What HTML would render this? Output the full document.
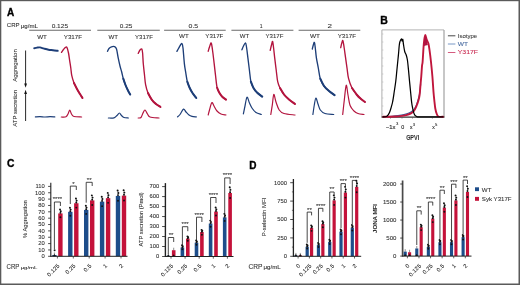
<!DOCTYPE html>
<html><head><meta charset="utf-8"><style>
html,body{margin:0;padding:0;background:#fff;}
svg{display:block;filter:blur(0.25px);}
svg{stroke-width:0.08px;}
text{font-family:"Liberation Sans",sans-serif;}
</style></head><body>
<div style="position:relative;width:520px;height:285px;overflow:hidden;background:#fff;">
<svg width="520" height="285" viewBox="0 0 520 285">
<text x="7" y="16" font-size="10" text-anchor="start" font-weight="bold" style="stroke-width:0.35px" fill="#000" stroke="#000">A</text>
<text x="6.85" y="27.4" font-size="6.1" text-anchor="start" fill="#303030" textLength="12.8" lengthAdjust="spacingAndGlyphs" stroke="#303030">CRP</text>
<text x="20.85" y="27.7" font-size="4.6" text-anchor="start" fill="#303030" textLength="17.0" lengthAdjust="spacingAndGlyphs" stroke="#303030">μg/mL</text>
<text x="51.65" y="27.6" font-size="5.3" text-anchor="start" fill="#303030" textLength="16.4" lengthAdjust="spacingAndGlyphs" stroke="#303030">0.125</text>
<line x1="29.2" y1="30.3" x2="91" y2="30.3" stroke="#6a6a6a" stroke-width="1.1"/>
<text x="119.75" y="28.0" font-size="5.3" text-anchor="start" fill="#303030" textLength="12.6" lengthAdjust="spacingAndGlyphs" stroke="#303030">0.25</text>
<line x1="97.3" y1="30.3" x2="159.8" y2="30.3" stroke="#6a6a6a" stroke-width="1.1"/>
<text x="188.55" y="27.6" font-size="5.3" text-anchor="start" fill="#303030" textLength="9.7" lengthAdjust="spacingAndGlyphs" stroke="#303030">0.5</text>
<line x1="164.1" y1="30.3" x2="225.7" y2="30.3" stroke="#6a6a6a" stroke-width="1.1"/>
<text x="259.65" y="27.9" font-size="5.3" text-anchor="start" fill="#303030" textLength="2.8" lengthAdjust="spacingAndGlyphs" stroke="#303030">1</text>
<line x1="231.4" y1="30.3" x2="293.4" y2="30.3" stroke="#6a6a6a" stroke-width="1.1"/>
<text x="327.45" y="27.7" font-size="5.3" text-anchor="start" fill="#303030" textLength="4.5" lengthAdjust="spacingAndGlyphs" stroke="#303030">2</text>
<line x1="298.6" y1="30.3" x2="360.3" y2="30.3" stroke="#6a6a6a" stroke-width="1.1"/>
<text x="37.15" y="39.2" font-size="5.6" text-anchor="start" fill="#303030" textLength="9.8" lengthAdjust="spacingAndGlyphs" stroke="#303030">WT</text>
<text x="108.45" y="38.7" font-size="5.6" text-anchor="start" fill="#303030" textLength="9.5" lengthAdjust="spacingAndGlyphs" stroke="#303030">WT</text>
<text x="179.05" y="37.7" font-size="5.6" text-anchor="start" fill="#303030" textLength="9.7" lengthAdjust="spacingAndGlyphs" stroke="#303030">WT</text>
<text x="239.75" y="37.8" font-size="5.6" text-anchor="start" fill="#303030" textLength="9.4" lengthAdjust="spacingAndGlyphs" stroke="#303030">WT</text>
<text x="309.95" y="37.5" font-size="5.6" text-anchor="start" fill="#303030" textLength="10.1" lengthAdjust="spacingAndGlyphs" stroke="#303030">WT</text>
<text x="63.75" y="39.2" font-size="5.6" text-anchor="start" fill="#303030" textLength="18.3" lengthAdjust="spacingAndGlyphs" stroke="#303030">Y317F</text>
<text x="135.05" y="38.7" font-size="5.6" text-anchor="start" fill="#303030" textLength="17.8" lengthAdjust="spacingAndGlyphs" stroke="#303030">Y317F</text>
<text x="205.35" y="37.7" font-size="5.6" text-anchor="start" fill="#303030" textLength="18.0" lengthAdjust="spacingAndGlyphs" stroke="#303030">Y317F</text>
<text x="265.55" y="37.8" font-size="5.6" text-anchor="start" fill="#303030" textLength="17.8" lengthAdjust="spacingAndGlyphs" stroke="#303030">Y317F</text>
<text x="337.65" y="37.5" font-size="5.6" text-anchor="start" fill="#303030" textLength="18.3" lengthAdjust="spacingAndGlyphs" stroke="#303030">Y317F</text>
<line x1="25.6" y1="50.5" x2="25.6" y2="84.5" stroke="#111" stroke-width="0.9"/>
<path d="M24.2,83.5 L25.6,87.8 L27,83.5 Z" fill="#111"/>
<line x1="25.6" y1="121" x2="25.6" y2="93" stroke="#111" stroke-width="0.9"/>
<path d="M24.2,94 L25.6,89.7 L27,94 Z" fill="#111"/>
<text x="16.7" y="65.5" font-size="5.9" text-anchor="middle" fill="#303030" transform="rotate(-90 16.7 65.5)" textLength="32.6" lengthAdjust="spacingAndGlyphs" stroke="#303030">Aggregation</text>
<text x="17.5" y="108.3" font-size="5.9" text-anchor="middle" fill="#303030" transform="rotate(-90 17.5 108.3)" textLength="36.8" lengthAdjust="spacingAndGlyphs" stroke="#303030">ATP secretion</text>
<path d="M34.20,48.20 C34.67,48.10 36.03,47.73 37.00,47.60 C37.97,47.47 38.83,47.23 40.00,47.40 C41.17,47.57 42.58,48.22 44.00,48.60 C45.42,48.98 47.00,49.43 48.50,49.70 C50.00,49.97 51.47,50.02 53.00,50.20 C54.53,50.38 56.92,50.70 57.70,50.80" fill="none" stroke="#1d3e78" stroke-width="1.9" stroke-linejoin="round" stroke-linecap="round"/>
<path d="M107.50,51.30 C107.75,50.83 108.33,49.25 109.00,48.50 C109.67,47.75 110.60,47.12 111.50,46.80 C112.40,46.48 113.57,46.23 114.40,46.60 C115.23,46.97 115.87,47.12 116.50,49.00 C117.13,50.88 117.62,55.07 118.20,57.90 C118.78,60.73 119.42,63.65 120.00,66.00 C120.58,68.35 121.15,69.88 121.70,72.00 C122.25,74.12 122.67,76.53 123.30,78.70 C123.93,80.87 124.72,83.03 125.50,85.00 C126.28,86.97 127.22,88.92 128.00,90.50 C128.78,92.08 129.83,93.83 130.20,94.50" fill="none" stroke="#1d3e78" stroke-width="1.35" stroke-linejoin="round" stroke-linecap="round"/>
<path d="M123.30,78.70 C123.67,79.75 124.72,83.03 125.50,85.00 C126.28,86.97 127.22,88.92 128.00,90.50 C128.78,92.08 129.83,93.83 130.20,94.50" fill="none" stroke="#1d3e78" stroke-width="2.0" stroke-linejoin="round" stroke-linecap="round"/>
<path d="M176.90,51.30 C177.17,50.83 177.90,49.55 178.50,48.50 C179.10,47.45 179.92,45.82 180.50,45.00 C181.08,44.18 181.58,43.10 182.00,43.60 C182.42,44.10 182.60,44.63 183.00,48.00 C183.40,51.37 183.93,59.63 184.40,63.80 C184.87,67.97 185.32,70.02 185.80,73.00 C186.28,75.98 186.68,79.28 187.30,81.70 C187.92,84.12 188.63,85.62 189.50,87.50 C190.37,89.38 191.37,91.25 192.50,93.00 C193.63,94.75 195.67,97.17 196.30,98.00" fill="none" stroke="#1d3e78" stroke-width="1.35" stroke-linejoin="round" stroke-linecap="round"/>
<path d="M187.30,81.70 C187.67,82.67 188.63,85.62 189.50,87.50 C190.37,89.38 191.37,91.25 192.50,93.00 C193.63,94.75 195.67,97.17 196.30,98.00" fill="none" stroke="#1d3e78" stroke-width="2.0" stroke-linejoin="round" stroke-linecap="round"/>
<path d="M241.90,49.80 C242.17,49.17 242.90,47.13 243.50,46.00 C244.10,44.87 245.00,42.83 245.50,43.00 C246.00,43.17 246.10,44.52 246.50,47.00 C246.90,49.48 247.42,54.07 247.90,57.90 C248.38,61.73 248.90,66.03 249.40,70.00 C249.90,73.97 250.22,78.70 250.90,81.70 C251.58,84.70 252.48,86.20 253.50,88.00 C254.52,89.80 255.55,91.07 257.00,92.50 C258.45,93.93 261.33,95.92 262.20,96.60" fill="none" stroke="#1d3e78" stroke-width="1.35" stroke-linejoin="round" stroke-linecap="round"/>
<path d="M250.90,81.70 C251.33,82.75 252.48,86.20 253.50,88.00 C254.52,89.80 255.55,91.07 257.00,92.50 C258.45,93.93 261.33,95.92 262.20,96.60" fill="none" stroke="#1d3e78" stroke-width="2.0" stroke-linejoin="round" stroke-linecap="round"/>
<path d="M312.30,49.00 C312.47,48.33 312.95,46.10 313.30,45.00 C313.65,43.90 314.07,41.90 314.40,42.40 C314.73,42.90 314.97,45.42 315.30,48.00 C315.63,50.58 315.90,54.57 316.40,57.90 C316.90,61.23 317.65,64.53 318.30,68.00 C318.95,71.47 319.35,75.70 320.30,78.70 C321.25,81.70 322.55,83.95 324.00,86.00 C325.45,88.05 327.23,89.48 329.00,91.00 C330.77,92.52 333.67,94.42 334.60,95.10" fill="none" stroke="#1d3e78" stroke-width="1.35" stroke-linejoin="round" stroke-linecap="round"/>
<path d="M320.30,78.70 C320.92,79.92 322.55,83.95 324.00,86.00 C325.45,88.05 327.23,89.48 329.00,91.00 C330.77,92.52 333.67,94.42 334.60,95.10" fill="none" stroke="#1d3e78" stroke-width="2.0" stroke-linejoin="round" stroke-linecap="round"/>
<path d="M61.50,52.40 C61.83,51.92 62.83,50.33 63.50,49.50 C64.17,48.67 64.92,47.72 65.50,47.40 C66.08,47.08 66.50,46.67 67.00,47.60 C67.50,48.53 68.05,50.80 68.50,53.00 C68.95,55.20 69.32,58.30 69.70,60.80 C70.08,63.30 70.45,65.52 70.80,68.00 C71.15,70.48 71.27,73.20 71.80,75.70 C72.33,78.20 73.13,80.78 74.00,83.00 C74.87,85.22 76.00,87.17 77.00,89.00 C78.00,90.83 79.08,92.50 80.00,94.00 C80.92,95.50 82.08,97.33 82.50,98.00" fill="none" stroke="#b3143e" stroke-width="1.35" stroke-linejoin="round" stroke-linecap="round"/>
<path d="M74.00,83.00 C74.50,84.00 76.00,87.17 77.00,89.00 C78.00,90.83 79.08,92.50 80.00,94.00 C80.92,95.50 82.08,97.33 82.50,98.00" fill="none" stroke="#b3143e" stroke-width="2.0" stroke-linejoin="round" stroke-linecap="round"/>
<path d="M138.20,53.40 C138.50,52.83 139.40,50.73 140.00,50.00 C140.60,49.27 141.37,48.50 141.80,49.00 C142.23,49.50 142.35,50.53 142.60,53.00 C142.85,55.47 142.98,60.13 143.30,63.80 C143.62,67.47 144.12,71.52 144.50,75.00 C144.88,78.48 145.02,81.70 145.60,84.70 C146.18,87.70 146.93,90.45 148.00,93.00 C149.07,95.55 150.67,98.17 152.00,100.00 C153.33,101.83 154.58,102.83 156.00,104.00 C157.42,105.17 159.75,106.50 160.50,107.00" fill="none" stroke="#b3143e" stroke-width="1.35" stroke-linejoin="round" stroke-linecap="round"/>
<path d="M148.00,93.00 C148.67,94.17 150.67,98.17 152.00,100.00 C153.33,101.83 154.58,102.83 156.00,104.00 C157.42,105.17 159.75,106.50 160.50,107.00" fill="none" stroke="#b3143e" stroke-width="2.0" stroke-linejoin="round" stroke-linecap="round"/>
<path d="M208.20,51.30 C208.42,50.58 209.00,48.38 209.50,47.00 C210.00,45.62 210.70,42.50 211.20,43.00 C211.70,43.50 212.00,46.53 212.50,50.00 C213.00,53.47 213.68,59.47 214.20,63.80 C214.72,68.13 215.12,72.02 215.60,76.00 C216.08,79.98 216.45,84.87 217.10,87.70 C217.75,90.53 218.60,91.45 219.50,93.00 C220.40,94.55 221.42,95.90 222.50,97.00 C223.58,98.10 225.42,99.17 226.00,99.60" fill="none" stroke="#b3143e" stroke-width="1.35" stroke-linejoin="round" stroke-linecap="round"/>
<path d="M217.10,87.70 C217.50,88.58 218.60,91.45 219.50,93.00 C220.40,94.55 221.42,95.90 222.50,97.00 C223.58,98.10 225.42,99.17 226.00,99.60" fill="none" stroke="#b3143e" stroke-width="2.0" stroke-linejoin="round" stroke-linecap="round"/>
<path d="M270.20,50.40 C270.42,49.50 271.10,46.48 271.50,45.00 C271.90,43.52 272.25,41.00 272.60,41.50 C272.95,42.00 273.25,45.27 273.60,48.00 C273.95,50.73 274.27,54.23 274.70,57.90 C275.13,61.57 275.70,66.03 276.20,70.00 C276.70,73.97 277.07,78.70 277.70,81.70 C278.33,84.70 278.95,85.87 280.00,88.00 C281.05,90.13 282.50,92.58 284.00,94.50 C285.50,96.42 287.17,97.92 289.00,99.50 C290.83,101.08 294.00,103.25 295.00,104.00" fill="none" stroke="#b3143e" stroke-width="1.35" stroke-linejoin="round" stroke-linecap="round"/>
<path d="M280.00,88.00 C280.67,89.08 282.50,92.58 284.00,94.50 C285.50,96.42 287.17,97.92 289.00,99.50 C290.83,101.08 294.00,103.25 295.00,104.00" fill="none" stroke="#b3143e" stroke-width="2.0" stroke-linejoin="round" stroke-linecap="round"/>
<path d="M340.70,47.70 C340.88,46.92 341.43,44.17 341.80,43.00 C342.17,41.83 342.50,39.87 342.90,40.70 C343.30,41.53 343.75,45.13 344.20,48.00 C344.65,50.87 345.13,54.57 345.60,57.90 C346.07,61.23 346.50,64.53 347.00,68.00 C347.50,71.47 347.77,75.37 348.60,78.70 C349.43,82.03 350.60,85.28 352.00,88.00 C353.40,90.72 355.50,93.17 357.00,95.00 C358.50,96.83 359.67,97.83 361.00,99.00 C362.33,100.17 364.33,101.50 365.00,102.00" fill="none" stroke="#b3143e" stroke-width="1.35" stroke-linejoin="round" stroke-linecap="round"/>
<path d="M352.00,88.00 C352.83,89.17 355.50,93.17 357.00,95.00 C358.50,96.83 359.67,97.83 361.00,99.00 C362.33,100.17 364.33,101.50 365.00,102.00" fill="none" stroke="#b3143e" stroke-width="2.0" stroke-linejoin="round" stroke-linecap="round"/>
<path d="M35.40,116.90 C36.17,116.85 38.40,116.58 40.00,116.60 C41.60,116.62 43.33,116.98 45.00,117.00 C46.67,117.02 48.37,116.72 50.00,116.70 C51.63,116.68 54.00,116.87 54.80,116.90" fill="none" stroke="#1d3e78" stroke-width="1.2" stroke-linejoin="round" stroke-linecap="round"/>
<path d="M108.40,118.00 C109.33,117.97 112.57,118.22 114.00,117.80 C115.43,117.38 116.10,116.30 117.00,115.50 C117.90,114.70 118.65,113.00 119.40,113.00 C120.15,113.00 120.73,114.75 121.50,115.50 C122.27,116.25 122.85,117.08 124.00,117.50 C125.15,117.92 127.67,117.92 128.40,118.00" fill="none" stroke="#1d3e78" stroke-width="1.2" stroke-linejoin="round" stroke-linecap="round"/>
<path d="M177.50,116.90 C177.92,116.50 179.00,115.80 180.00,114.50 C181.00,113.20 182.50,109.52 183.50,109.10 C184.50,108.68 185.08,111.02 186.00,112.00 C186.92,112.98 188.00,114.28 189.00,115.00 C190.00,115.72 190.78,115.98 192.00,116.30 C193.22,116.62 195.58,116.80 196.30,116.90" fill="none" stroke="#1d3e78" stroke-width="1.2" stroke-linejoin="round" stroke-linecap="round"/>
<path d="M243.40,113.90 C243.67,112.58 244.40,108.78 245.00,106.00 C245.60,103.22 246.25,97.70 247.00,97.20 C247.75,96.70 248.62,101.12 249.50,103.00 C250.38,104.88 251.22,106.92 252.30,108.50 C253.38,110.08 254.50,111.50 256.00,112.50 C257.50,113.50 260.42,114.17 261.30,114.50" fill="none" stroke="#1d3e78" stroke-width="1.2" stroke-linejoin="round" stroke-linecap="round"/>
<path d="M312.90,114.50 C313.13,112.92 313.80,107.75 314.30,105.00 C314.80,102.25 315.28,98.17 315.90,98.00 C316.52,97.83 317.27,102.00 318.00,104.00 C318.73,106.00 319.13,108.42 320.30,110.00 C321.47,111.58 322.77,112.75 325.00,113.50 C327.23,114.25 332.25,114.33 333.70,114.50" fill="none" stroke="#1d3e78" stroke-width="1.2" stroke-linejoin="round" stroke-linecap="round"/>
<path d="M61.30,117.00 C62.08,116.97 64.88,117.30 66.00,116.80 C67.12,116.30 67.38,115.13 68.00,114.00 C68.62,112.87 69.12,110.00 69.70,110.00 C70.28,110.00 70.78,112.92 71.50,114.00 C72.22,115.08 72.32,116.00 74.00,116.50 C75.68,117.00 80.33,116.92 81.60,117.00" fill="none" stroke="#b3143e" stroke-width="1.2" stroke-linejoin="round" stroke-linecap="round"/>
<path d="M138.20,118.00 C138.67,117.92 140.20,118.33 141.00,117.50 C141.80,116.67 142.33,114.25 143.00,113.00 C143.67,111.75 144.25,109.83 145.00,110.00 C145.75,110.17 146.67,112.83 147.50,114.00 C148.33,115.17 148.08,116.33 150.00,117.00 C151.92,117.67 157.50,117.83 159.00,118.00" fill="none" stroke="#b3143e" stroke-width="1.2" stroke-linejoin="round" stroke-linecap="round"/>
<path d="M208.20,115.00 C208.42,114.17 208.90,112.07 209.50,110.00 C210.10,107.93 211.05,103.27 211.80,102.60 C212.55,101.93 213.13,104.60 214.00,106.00 C214.87,107.40 215.83,109.67 217.00,111.00 C218.17,112.33 219.50,113.33 221.00,114.00 C222.50,114.67 225.17,114.83 226.00,115.00" fill="none" stroke="#b3143e" stroke-width="1.2" stroke-linejoin="round" stroke-linecap="round"/>
<path d="M270.80,114.50 C271.05,112.92 271.80,108.33 272.30,105.00 C272.80,101.67 273.18,95.00 273.80,94.50 C274.42,94.00 275.10,99.42 276.00,102.00 C276.90,104.58 277.87,108.08 279.20,110.00 C280.53,111.92 281.37,112.67 284.00,113.50 C286.63,114.33 293.17,114.75 295.00,115.00" fill="none" stroke="#b3143e" stroke-width="1.2" stroke-linejoin="round" stroke-linecap="round"/>
<path d="M342.70,114.50 C342.97,112.08 343.72,104.87 344.30,100.00 C344.88,95.13 345.58,86.13 346.20,85.30 C346.82,84.47 347.35,91.63 348.00,95.00 C348.65,98.37 349.10,102.83 350.10,105.50 C351.10,108.17 352.68,109.67 354.00,111.00 C355.32,112.33 356.33,112.92 358.00,113.50 C359.67,114.08 363.00,114.33 364.00,114.50" fill="none" stroke="#b3143e" stroke-width="1.2" stroke-linejoin="round" stroke-linecap="round"/>
<text x="380.2" y="23.5" font-size="10.5" text-anchor="start" font-weight="bold" style="stroke-width:0.35px" fill="#000" stroke="#000">B</text>
<line x1="381.9" y1="29.9" x2="444" y2="29.9" stroke="#aaa" stroke-width="0.9"/>
<line x1="444" y1="29.9" x2="444" y2="117.1" stroke="#999" stroke-width="1.1"/>
<line x1="381.9" y1="29.9" x2="381.9" y2="117.1" stroke="#999" stroke-width="0.8"/>
<line x1="381.5" y1="117.1" x2="444.5" y2="117.1" stroke="#333" stroke-width="1.1"/>
<line x1="390.5" y1="117.1" x2="390.5" y2="118.6" stroke="#555" stroke-width="0.6"/>
<line x1="402" y1="117.1" x2="402" y2="118.6" stroke="#555" stroke-width="0.6"/>
<line x1="412.5" y1="117.1" x2="412.5" y2="118.6" stroke="#555" stroke-width="0.6"/>
<line x1="432.4" y1="117.1" x2="432.4" y2="118.6" stroke="#555" stroke-width="0.6"/>
<line x1="382" y1="34" x2="383.4" y2="34" stroke="#aaa" stroke-width="0.5"/>
<line x1="382" y1="42" x2="383.4" y2="42" stroke="#aaa" stroke-width="0.5"/>
<line x1="382" y1="50" x2="383.4" y2="50" stroke="#aaa" stroke-width="0.5"/>
<line x1="382" y1="58" x2="383.4" y2="58" stroke="#aaa" stroke-width="0.5"/>
<line x1="382" y1="66" x2="383.4" y2="66" stroke="#aaa" stroke-width="0.5"/>
<line x1="382" y1="74" x2="383.4" y2="74" stroke="#aaa" stroke-width="0.5"/>
<line x1="382" y1="82" x2="383.4" y2="82" stroke="#aaa" stroke-width="0.5"/>
<line x1="382" y1="90" x2="383.4" y2="90" stroke="#aaa" stroke-width="0.5"/>
<line x1="382" y1="98" x2="383.4" y2="98" stroke="#aaa" stroke-width="0.5"/>
<line x1="382" y1="106" x2="383.4" y2="106" stroke="#aaa" stroke-width="0.5"/>
<line x1="382" y1="114" x2="383.4" y2="114" stroke="#aaa" stroke-width="0.5"/>
<path d="M386.00,116.60 C387.00,116.55 390.00,116.45 392.00,116.30 C394.00,116.15 396.00,115.98 398.00,115.70 C400.00,115.42 402.17,115.05 404.00,114.60 C405.83,114.15 407.58,113.60 409.00,113.00 C410.42,112.40 411.50,111.80 412.50,111.00 C413.50,110.20 414.25,109.45 415.00,108.20 C415.75,106.95 416.38,105.20 417.00,103.50 C417.62,101.80 418.23,99.83 418.70,98.00 C419.17,96.17 419.48,94.83 419.80,92.50 C420.12,90.17 420.47,85.42 420.60,84.00" fill="none" stroke="#3a5f9a" stroke-width="1.3" stroke-linejoin="round" stroke-linecap="round"/>
<path d="M383.20,116.80 C384.33,116.78 388.03,116.75 390.00,116.70 C391.97,116.65 393.30,116.60 395.00,116.50 C396.70,116.40 398.33,116.33 400.20,116.10 C402.07,115.87 404.40,115.55 406.20,115.10 C408.00,114.65 409.68,114.12 411.00,113.40 C412.32,112.68 413.18,112.03 414.10,110.80 C415.02,109.57 415.78,107.72 416.50,106.00 C417.22,104.28 417.88,102.33 418.40,100.50 C418.92,98.67 419.25,97.58 419.60,95.00 C419.95,92.42 420.22,88.17 420.50,85.00 C420.78,81.83 421.05,79.17 421.30,76.00 C421.55,72.83 421.78,68.33 422.00,66.00 C422.22,63.67 422.35,65.03 422.60,62.00 C422.85,58.97 423.23,51.40 423.50,47.80 C423.77,44.20 423.90,42.53 424.20,40.40 C424.50,38.27 424.87,35.08 425.30,35.00 C425.73,34.92 426.28,38.47 426.80,39.90 C427.32,41.33 427.95,41.93 428.40,43.60 C428.85,45.27 429.07,46.83 429.50,49.90 C429.93,52.97 430.52,57.57 431.00,62.00 C431.48,66.43 431.98,71.50 432.40,76.50 C432.82,81.50 433.15,87.75 433.50,92.00 C433.85,96.25 434.20,99.25 434.50,102.00 C434.80,104.75 434.95,106.58 435.30,108.50 C435.65,110.42 436.08,112.17 436.60,113.50 C437.12,114.83 437.33,115.95 438.40,116.50 C439.47,117.05 442.23,116.75 443.00,116.80" fill="none" stroke="#c0163c" stroke-width="1.9" stroke-linejoin="round" stroke-linecap="round"/>
<path d="M423.6,46 L424.4,40 L425.3,35.2 L426.6,39.5 L427.8,45 Z" fill="#b01442"/>
<path d="M383.00,116.80 C383.55,116.75 385.47,116.77 386.30,116.50 C387.13,116.23 387.47,115.85 388.00,115.20 C388.53,114.55 389.00,113.80 389.50,112.60 C390.00,111.40 390.48,109.77 391.00,108.00 C391.52,106.23 392.07,104.67 392.60,102.00 C393.13,99.33 393.67,95.50 394.20,92.00 C394.73,88.50 395.35,84.67 395.80,81.00 C396.25,77.33 396.55,73.50 396.90,70.00 C397.25,66.50 397.62,62.83 397.90,60.00 C398.18,57.17 398.37,55.50 398.60,53.00 C398.83,50.50 399.07,46.92 399.30,45.00 C399.53,43.08 399.65,42.53 400.00,41.50 C400.35,40.47 401.05,38.88 401.40,38.80 C401.75,38.72 401.87,40.90 402.10,41.00 C402.33,41.10 402.57,38.80 402.80,39.40 C403.03,40.00 403.18,42.58 403.50,44.60 C403.82,46.62 404.25,49.77 404.70,51.50 C405.15,53.23 405.75,53.58 406.20,55.00 C406.65,56.42 407.02,57.50 407.40,60.00 C407.78,62.50 408.15,66.50 408.50,70.00 C408.85,73.50 409.15,77.33 409.50,81.00 C409.85,84.67 410.25,88.50 410.60,92.00 C410.95,95.50 411.27,99.33 411.60,102.00 C411.93,104.67 412.25,106.23 412.60,108.00 C412.95,109.77 413.30,111.38 413.70,112.60 C414.10,113.82 414.48,114.65 415.00,115.30 C415.52,115.95 415.97,116.25 416.80,116.50 C417.63,116.75 415.63,116.75 420.00,116.80 C424.37,116.85 439.17,116.80 443.00,116.80" fill="none" stroke="#000" stroke-width="1.25" stroke-linejoin="round" stroke-linecap="round"/>
<g fill="#303030" stroke="#303030" style="stroke-width:0.15px">
<text x="385.9" y="128.6" font-size="5.0" textLength="9.6" lengthAdjust="spacingAndGlyphs" stroke="#303030">−1x</text>
<text x="396.2" y="125.0" font-size="3.6" stroke="#303030">3</text>
<text x="401.3" y="128.9" font-size="5.4" stroke="#303030">0</text>
<text x="410.0" y="128.7" font-size="5.0" stroke="#303030">x</text>
<text x="413.0" y="125.6" font-size="3.6" stroke="#303030">3</text>
<text x="432.2" y="128.7" font-size="5.0" stroke="#303030">x</text>
<text x="435.3" y="125.6" font-size="3.6" stroke="#303030">5</text>
</g>
<text x="406.15" y="139.8" font-size="8.0" text-anchor="start" font-weight="bold" fill="#303030" textLength="13.0" lengthAdjust="spacingAndGlyphs" stroke="#303030">GPVI</text>
<line x1="447.9" y1="35.8" x2="455.4" y2="35.8" stroke="#333" stroke-width="0.9"/>
<line x1="447.9" y1="44" x2="455.4" y2="44" stroke="#6a8cc0" stroke-width="0.9"/>
<line x1="447.9" y1="52.5" x2="455.4" y2="52.5" stroke="#d04870" stroke-width="0.9"/>
<text x="457.75" y="37.7" font-size="5.5" text-anchor="start" fill="#404040" textLength="19.3" lengthAdjust="spacingAndGlyphs" stroke="#404040">Isotype</text>
<text x="457.75" y="45.9" font-size="5.5" text-anchor="start" fill="#46699f" textLength="10.2" lengthAdjust="spacingAndGlyphs" stroke="#46699f">WT</text>
<text x="457.75" y="54.4" font-size="5.5" text-anchor="start" fill="#c8284f" textLength="20.2" lengthAdjust="spacingAndGlyphs" stroke="#c8284f">Y317F</text>
<circle cx="54.6" cy="250.2" r="0.95" fill="#111"/>
<text x="7" y="166.7" font-size="10.3" text-anchor="start" font-weight="bold" style="stroke-width:0.35px" fill="#000" stroke="#000">C</text>
<text x="6.55" y="268.5" font-size="6.4" text-anchor="start" fill="#303030" textLength="12.9" lengthAdjust="spacingAndGlyphs" stroke="#303030">CRP</text>
<text x="20.65" y="268.7" font-size="4.3" text-anchor="start" fill="#303030" textLength="16.7" lengthAdjust="spacingAndGlyphs" stroke="#303030">μg/mL</text>
<text x="27.5" y="219.2" font-size="5.8" text-anchor="middle" fill="#303030" transform="rotate(-90 27.5 219.2)" textLength="37.7" lengthAdjust="spacingAndGlyphs" stroke="#303030">% Aggregation</text>
<rect x="52.20" y="255.03" width="4.4" height="1.27" fill="#1d4d8a"/>
<rect x="58.20" y="213.41" width="4.4" height="42.89" fill="#c4123a"/>
<line x1="54.400000000000006" y1="255.0290909090909" x2="54.400000000000006" y2="252.5290909090909" stroke="#222" stroke-width="0.5"/>
<path d="M53.00,256.30 L55.80,256.30 L54.40,254.10 Z" fill="#111"/>
<line x1="60.4" y1="213.40681818181818" x2="60.4" y2="209.2464318181818" stroke="#222" stroke-width="0.5"/>
<circle cx="60.00" cy="209.55" r="0.95" fill="#111"/>
<circle cx="60.80" cy="211.28" r="0.95" fill="#111"/>
<circle cx="60.40" cy="212.83" r="0.95" fill="#111"/>
<circle cx="60.40" cy="217.18" r="0.95" fill="#111"/>
<rect x="68.10" y="211.82" width="4.4" height="44.48" fill="#1d4d8a"/>
<rect x="74.10" y="203.24" width="4.4" height="53.06" fill="#c4123a"/>
<line x1="70.3" y1="211.8181818181818" x2="70.3" y2="207.51481818181816" stroke="#222" stroke-width="0.5"/>
<circle cx="69.90" cy="207.81" r="0.95" fill="#111"/>
<circle cx="70.70" cy="209.62" r="0.95" fill="#111"/>
<circle cx="70.30" cy="211.22" r="0.95" fill="#111"/>
<circle cx="70.30" cy="215.69" r="0.95" fill="#111"/>
<line x1="76.3" y1="203.23954545454546" x2="76.3" y2="198.16410454545453" stroke="#222" stroke-width="0.5"/>
<circle cx="75.90" cy="198.46" r="0.95" fill="#111"/>
<circle cx="76.70" cy="200.61" r="0.95" fill="#111"/>
<circle cx="76.30" cy="202.52" r="0.95" fill="#111"/>
<circle cx="76.30" cy="207.62" r="0.95" fill="#111"/>
<rect x="84.00" y="209.91" width="4.4" height="46.39" fill="#1d4d8a"/>
<rect x="90.00" y="200.38" width="4.4" height="55.92" fill="#c4123a"/>
<line x1="86.2" y1="209.9118181818182" x2="86.2" y2="205.43688181818183" stroke="#222" stroke-width="0.5"/>
<circle cx="85.80" cy="205.74" r="0.95" fill="#111"/>
<circle cx="86.60" cy="207.62" r="0.95" fill="#111"/>
<circle cx="86.20" cy="209.29" r="0.95" fill="#111"/>
<circle cx="86.20" cy="213.90" r="0.95" fill="#111"/>
<line x1="92.2" y1="200.38" x2="92.2" y2="195.04719999999998" stroke="#222" stroke-width="0.5"/>
<circle cx="91.80" cy="195.35" r="0.95" fill="#111"/>
<circle cx="92.60" cy="197.61" r="0.95" fill="#111"/>
<circle cx="92.20" cy="199.63" r="0.95" fill="#111"/>
<circle cx="92.20" cy="204.94" r="0.95" fill="#111"/>
<rect x="99.90" y="201.65" width="4.4" height="54.65" fill="#1d4d8a"/>
<rect x="105.90" y="198.16" width="4.4" height="58.14" fill="#c4123a"/>
<line x1="102.1" y1="201.6509090909091" x2="102.1" y2="196.43249090909092" stroke="#222" stroke-width="0.5"/>
<circle cx="101.70" cy="196.73" r="0.95" fill="#111"/>
<circle cx="102.50" cy="198.95" r="0.95" fill="#111"/>
<circle cx="102.10" cy="200.91" r="0.95" fill="#111"/>
<circle cx="102.10" cy="206.13" r="0.95" fill="#111"/>
<line x1="108.1" y1="198.1559090909091" x2="108.1" y2="192.6229409090909" stroke="#222" stroke-width="0.5"/>
<circle cx="107.70" cy="192.92" r="0.95" fill="#111"/>
<circle cx="108.50" cy="195.28" r="0.95" fill="#111"/>
<circle cx="108.10" cy="197.37" r="0.95" fill="#111"/>
<circle cx="108.10" cy="202.84" r="0.95" fill="#111"/>
<rect x="115.80" y="195.93" width="4.4" height="60.37" fill="#1d4d8a"/>
<rect x="121.80" y="195.61" width="4.4" height="60.69" fill="#c4123a"/>
<line x1="118.0" y1="195.9318181818182" x2="118.0" y2="190.19868181818183" stroke="#222" stroke-width="0.5"/>
<circle cx="117.60" cy="190.50" r="0.95" fill="#111"/>
<circle cx="118.40" cy="192.94" r="0.95" fill="#111"/>
<circle cx="118.00" cy="195.12" r="0.95" fill="#111"/>
<circle cx="118.00" cy="200.75" r="0.95" fill="#111"/>
<line x1="124.0" y1="195.61409090909092" x2="124.0" y2="189.8523590909091" stroke="#222" stroke-width="0.5"/>
<circle cx="123.60" cy="190.15" r="0.95" fill="#111"/>
<circle cx="124.40" cy="192.61" r="0.95" fill="#111"/>
<circle cx="124.00" cy="194.79" r="0.95" fill="#111"/>
<circle cx="124.00" cy="200.46" r="0.95" fill="#111"/>
<line x1="50.8" y1="182.7" x2="50.8" y2="256.7" stroke="#222" stroke-width="1.1"/>
<line x1="50.4" y1="256.3" x2="127.5" y2="256.3" stroke="#222" stroke-width="1.0"/>
<line x1="48.099999999999994" y1="256.3" x2="50.8" y2="256.3" stroke="#222" stroke-width="0.8"/>
<text transform="translate(44.8 258.10) scale(1.15 1)" font-size="5.1" text-anchor="end" fill="#303030" stroke="#303030">0</text>
<line x1="48.099999999999994" y1="249.94545454545457" x2="50.8" y2="249.94545454545457" stroke="#222" stroke-width="0.8"/>
<text transform="translate(44.8 251.75) scale(1.15 1)" font-size="5.1" text-anchor="end" fill="#303030" stroke="#303030">10</text>
<line x1="48.099999999999994" y1="243.5909090909091" x2="50.8" y2="243.5909090909091" stroke="#222" stroke-width="0.8"/>
<text transform="translate(44.8 245.39) scale(1.15 1)" font-size="5.1" text-anchor="end" fill="#303030" stroke="#303030">20</text>
<line x1="48.099999999999994" y1="237.23636363636365" x2="50.8" y2="237.23636363636365" stroke="#222" stroke-width="0.8"/>
<text transform="translate(44.8 239.04) scale(1.15 1)" font-size="5.1" text-anchor="end" fill="#303030" stroke="#303030">30</text>
<line x1="48.099999999999994" y1="230.88181818181818" x2="50.8" y2="230.88181818181818" stroke="#222" stroke-width="0.8"/>
<text transform="translate(44.8 232.68) scale(1.15 1)" font-size="5.1" text-anchor="end" fill="#303030" stroke="#303030">40</text>
<line x1="48.099999999999994" y1="224.52727272727273" x2="50.8" y2="224.52727272727273" stroke="#222" stroke-width="0.8"/>
<text transform="translate(44.8 226.33) scale(1.15 1)" font-size="5.1" text-anchor="end" fill="#303030" stroke="#303030">50</text>
<line x1="48.099999999999994" y1="218.1727272727273" x2="50.8" y2="218.1727272727273" stroke="#222" stroke-width="0.8"/>
<text transform="translate(44.8 219.97) scale(1.15 1)" font-size="5.1" text-anchor="end" fill="#303030" stroke="#303030">60</text>
<line x1="48.099999999999994" y1="211.8181818181818" x2="50.8" y2="211.8181818181818" stroke="#222" stroke-width="0.8"/>
<text transform="translate(44.8 213.62) scale(1.15 1)" font-size="5.1" text-anchor="end" fill="#303030" stroke="#303030">70</text>
<line x1="48.099999999999994" y1="205.46363636363637" x2="50.8" y2="205.46363636363637" stroke="#222" stroke-width="0.8"/>
<text transform="translate(44.8 207.26) scale(1.15 1)" font-size="5.1" text-anchor="end" fill="#303030" stroke="#303030">80</text>
<line x1="48.099999999999994" y1="199.10909090909092" x2="50.8" y2="199.10909090909092" stroke="#222" stroke-width="0.8"/>
<text transform="translate(44.8 200.91) scale(1.15 1)" font-size="5.1" text-anchor="end" fill="#303030" stroke="#303030">90</text>
<line x1="48.099999999999994" y1="192.75454545454545" x2="50.8" y2="192.75454545454545" stroke="#222" stroke-width="0.8"/>
<text transform="translate(44.8 194.55) scale(1.15 1)" font-size="5.1" text-anchor="end" fill="#303030" stroke="#303030">100</text>
<line x1="48.099999999999994" y1="186.4" x2="50.8" y2="186.4" stroke="#222" stroke-width="0.8"/>
<text transform="translate(44.8 188.20) scale(1.15 1)" font-size="5.1" text-anchor="end" fill="#303030" stroke="#303030">110</text>
<line x1="57.4" y1="256.3" x2="57.4" y2="258.5" stroke="#222" stroke-width="0.7"/>
<line x1="73.3" y1="256.3" x2="73.3" y2="258.5" stroke="#222" stroke-width="0.7"/>
<line x1="89.2" y1="256.3" x2="89.2" y2="258.5" stroke="#222" stroke-width="0.7"/>
<line x1="105.1" y1="256.3" x2="105.1" y2="258.5" stroke="#222" stroke-width="0.7"/>
<line x1="121.0" y1="256.3" x2="121.0" y2="258.5" stroke="#222" stroke-width="0.7"/>
<text transform="translate(60.00 266.2) rotate(-45) scale(1.1 1)" font-size="5.5" text-anchor="end" fill="#303030" stroke="#303030">0.125</text>
<text transform="translate(75.90 266.2) rotate(-45) scale(1.1 1)" font-size="5.5" text-anchor="end" fill="#303030" stroke="#303030">0.25</text>
<text transform="translate(91.80 266.2) rotate(-45) scale(1.1 1)" font-size="5.5" text-anchor="end" fill="#303030" stroke="#303030">0.5</text>
<text transform="translate(107.70 266.2) rotate(-45) scale(1.1 1)" font-size="5.5" text-anchor="end" fill="#303030" stroke="#303030">1</text>
<text transform="translate(123.60 266.2) rotate(-45) scale(1.1 1)" font-size="5.5" text-anchor="end" fill="#303030" stroke="#303030">2</text>
<path d="M54.40,249 L54.40,202 L60.40,202 L60.40,206" fill="none" stroke="#1a1a1a" stroke-width="0.8"/>
<text transform="translate(57.40 201.40) scale(1.2 1)" font-size="5" text-anchor="middle" fill="#303030" stroke="#303030">****</text>
<path d="M70.30,204 L70.30,186.1 L76.30,186.1 L76.30,190" fill="none" stroke="#1a1a1a" stroke-width="0.8"/>
<text transform="translate(73.30 185.50) scale(1.2 1)" font-size="5" text-anchor="middle" fill="#303030" stroke="#303030">*</text>
<path d="M86.20,202.7 L86.20,182.3 L92.20,182.3 L92.20,186" fill="none" stroke="#1a1a1a" stroke-width="0.8"/>
<text transform="translate(89.20 181.70) scale(1.2 1)" font-size="5" text-anchor="middle" fill="#303030" stroke="#303030">**</text>
<text x="143.0" y="219.4" font-size="5.8" text-anchor="middle" fill="#303030" transform="rotate(-90 143.0 219.4)" textLength="54" lengthAdjust="spacingAndGlyphs" stroke="#303030">ATP secretion (Pmol)</text>
<rect x="166.50" y="255.70" width="3.6" height="0.80" fill="#1d4d8a"/>
<rect x="171.90" y="250.21" width="3.6" height="6.29" fill="#c4123a"/>
<line x1="168.3" y1="255.70114285714286" x2="168.3" y2="253.20114285714286" stroke="#222" stroke-width="0.5"/>
<path d="M166.90,256.50 L169.70,256.50 L168.30,254.30 Z" fill="#111"/>
<line x1="173.70000000000002" y1="250.209" x2="173.70000000000002" y2="247.709" stroke="#222" stroke-width="0.5"/>
<path d="M172.30,256.50 L175.10,256.50 L173.70,254.30 Z" fill="#111"/>
<rect x="180.60" y="247.51" width="3.6" height="8.99" fill="#1d4d8a"/>
<rect x="186.00" y="238.53" width="3.6" height="17.97" fill="#c4123a"/>
<line x1="182.4" y1="247.51285714285714" x2="182.4" y2="245.01285714285714" stroke="#222" stroke-width="0.5"/>
<circle cx="182.00" cy="245.31" r="0.95" fill="#111"/>
<circle cx="182.80" cy="246.30" r="0.95" fill="#111"/>
<circle cx="182.40" cy="247.18" r="0.95" fill="#111"/>
<circle cx="182.40" cy="249.25" r="0.95" fill="#111"/>
<line x1="187.8" y1="238.5257142857143" x2="187.8" y2="236.0257142857143" stroke="#222" stroke-width="0.5"/>
<circle cx="187.40" cy="236.33" r="0.95" fill="#111"/>
<circle cx="188.20" cy="237.32" r="0.95" fill="#111"/>
<circle cx="187.80" cy="238.20" r="0.95" fill="#111"/>
<circle cx="187.80" cy="240.80" r="0.95" fill="#111"/>
<rect x="194.70" y="242.72" width="3.6" height="13.78" fill="#1d4d8a"/>
<rect x="200.10" y="232.03" width="3.6" height="24.47" fill="#c4123a"/>
<line x1="196.5" y1="242.71971428571428" x2="196.5" y2="240.21971428571428" stroke="#222" stroke-width="0.5"/>
<circle cx="196.10" cy="240.52" r="0.95" fill="#111"/>
<circle cx="196.90" cy="241.51" r="0.95" fill="#111"/>
<circle cx="196.50" cy="242.39" r="0.95" fill="#111"/>
<circle cx="196.50" cy="244.75" r="0.95" fill="#111"/>
<line x1="201.9" y1="232.035" x2="201.9" y2="229.53314999999998" stroke="#222" stroke-width="0.5"/>
<circle cx="201.50" cy="229.83" r="0.95" fill="#111"/>
<circle cx="202.30" cy="230.82" r="0.95" fill="#111"/>
<circle cx="201.90" cy="231.70" r="0.95" fill="#111"/>
<circle cx="201.90" cy="234.70" r="0.95" fill="#111"/>
<rect x="208.80" y="223.55" width="3.6" height="32.95" fill="#1d4d8a"/>
<rect x="214.20" y="211.56" width="3.6" height="44.94" fill="#c4123a"/>
<line x1="210.60000000000002" y1="223.54714285714286" x2="210.60000000000002" y2="220.2813857142857" stroke="#222" stroke-width="0.5"/>
<circle cx="210.20" cy="220.58" r="0.95" fill="#111"/>
<circle cx="211.00" cy="221.92" r="0.95" fill="#111"/>
<circle cx="210.60" cy="223.10" r="0.95" fill="#111"/>
<circle cx="210.60" cy="226.72" r="0.95" fill="#111"/>
<line x1="216.00000000000003" y1="211.56428571428572" x2="216.00000000000003" y2="207.22007142857143" stroke="#222" stroke-width="0.5"/>
<circle cx="215.60" cy="207.52" r="0.95" fill="#111"/>
<circle cx="216.40" cy="209.34" r="0.95" fill="#111"/>
<circle cx="216.00" cy="210.96" r="0.95" fill="#111"/>
<circle cx="216.00" cy="215.46" r="0.95" fill="#111"/>
<rect x="222.90" y="217.36" width="3.6" height="39.14" fill="#1d4d8a"/>
<rect x="228.30" y="192.99" width="3.6" height="63.51" fill="#c4123a"/>
<line x1="224.70000000000002" y1="217.356" x2="224.70000000000002" y2="213.53303999999997" stroke="#222" stroke-width="0.5"/>
<circle cx="224.30" cy="213.83" r="0.95" fill="#111"/>
<circle cx="225.10" cy="215.42" r="0.95" fill="#111"/>
<circle cx="224.70" cy="216.83" r="0.95" fill="#111"/>
<circle cx="224.70" cy="220.90" r="0.95" fill="#111"/>
<line x1="230.10000000000002" y1="192.99085714285712" x2="230.10000000000002" y2="186.97503428571426" stroke="#222" stroke-width="0.5"/>
<circle cx="229.70" cy="187.28" r="0.95" fill="#111"/>
<circle cx="230.50" cy="189.85" r="0.95" fill="#111"/>
<circle cx="230.10" cy="192.13" r="0.95" fill="#111"/>
<circle cx="230.10" cy="198.00" r="0.95" fill="#111"/>
<line x1="165.4" y1="183.1" x2="165.4" y2="256.9" stroke="#222" stroke-width="1.4"/>
<line x1="165.0" y1="256.5" x2="233.5" y2="256.5" stroke="#222" stroke-width="1.0"/>
<line x1="162.1" y1="256.5" x2="165.4" y2="256.5" stroke="#222" stroke-width="0.8"/>
<text transform="translate(159.3 258.30) scale(1.15 1)" font-size="5.1" text-anchor="end" fill="#303030" stroke="#303030">0</text>
<line x1="162.1" y1="246.5142857142857" x2="165.4" y2="246.5142857142857" stroke="#222" stroke-width="0.8"/>
<text transform="translate(159.3 248.31) scale(1.15 1)" font-size="5.1" text-anchor="end" fill="#303030" stroke="#303030">100</text>
<line x1="162.1" y1="236.5285714285714" x2="165.4" y2="236.5285714285714" stroke="#222" stroke-width="0.8"/>
<text transform="translate(159.3 238.33) scale(1.15 1)" font-size="5.1" text-anchor="end" fill="#303030" stroke="#303030">200</text>
<line x1="162.1" y1="226.54285714285714" x2="165.4" y2="226.54285714285714" stroke="#222" stroke-width="0.8"/>
<text transform="translate(159.3 228.34) scale(1.15 1)" font-size="5.1" text-anchor="end" fill="#303030" stroke="#303030">300</text>
<line x1="162.1" y1="216.55714285714285" x2="165.4" y2="216.55714285714285" stroke="#222" stroke-width="0.8"/>
<text transform="translate(159.3 218.36) scale(1.15 1)" font-size="5.1" text-anchor="end" fill="#303030" stroke="#303030">400</text>
<line x1="162.1" y1="206.57142857142856" x2="165.4" y2="206.57142857142856" stroke="#222" stroke-width="0.8"/>
<text transform="translate(159.3 208.37) scale(1.15 1)" font-size="5.1" text-anchor="end" fill="#303030" stroke="#303030">500</text>
<line x1="162.1" y1="196.5857142857143" x2="165.4" y2="196.5857142857143" stroke="#222" stroke-width="0.8"/>
<text transform="translate(159.3 198.39) scale(1.15 1)" font-size="5.1" text-anchor="end" fill="#303030" stroke="#303030">600</text>
<line x1="162.1" y1="186.6" x2="165.4" y2="186.6" stroke="#222" stroke-width="0.8"/>
<text transform="translate(159.3 188.40) scale(1.15 1)" font-size="5.1" text-anchor="end" fill="#303030" stroke="#303030">700</text>
<line x1="171.0" y1="256.5" x2="171.0" y2="258.7" stroke="#222" stroke-width="0.7"/>
<line x1="185.1" y1="256.5" x2="185.1" y2="258.7" stroke="#222" stroke-width="0.7"/>
<line x1="199.2" y1="256.5" x2="199.2" y2="258.7" stroke="#222" stroke-width="0.7"/>
<line x1="213.3" y1="256.5" x2="213.3" y2="258.7" stroke="#222" stroke-width="0.7"/>
<line x1="227.4" y1="256.5" x2="227.4" y2="258.7" stroke="#222" stroke-width="0.7"/>
<text transform="translate(173.60 266.2) rotate(-45) scale(1.1 1)" font-size="5.5" text-anchor="end" fill="#303030" stroke="#303030">0.125</text>
<text transform="translate(187.70 266.2) rotate(-45) scale(1.1 1)" font-size="5.5" text-anchor="end" fill="#303030" stroke="#303030">0.25</text>
<text transform="translate(201.80 266.2) rotate(-45) scale(1.1 1)" font-size="5.5" text-anchor="end" fill="#303030" stroke="#303030">0.5</text>
<text transform="translate(215.90 266.2) rotate(-45) scale(1.1 1)" font-size="5.5" text-anchor="end" fill="#303030" stroke="#303030">1</text>
<text transform="translate(230.00 266.2) rotate(-45) scale(1.1 1)" font-size="5.5" text-anchor="end" fill="#303030" stroke="#303030">2</text>
<path d="M168.30,253.8 L168.30,237.5 L173.70,237.5 L173.70,242" fill="none" stroke="#1a1a1a" stroke-width="0.8"/>
<text transform="translate(171.00 236.90) scale(1.2 1)" font-size="5" text-anchor="middle" fill="#303030" stroke="#303030">**</text>
<path d="M182.40,245 L182.40,226.7 L187.80,226.7 L187.80,231.2" fill="none" stroke="#1a1a1a" stroke-width="0.8"/>
<text transform="translate(185.10 226.10) scale(1.2 1)" font-size="5" text-anchor="middle" fill="#303030" stroke="#303030">***</text>
<path d="M196.50,240 L196.50,217.2 L201.90,217.2 L201.90,222" fill="none" stroke="#1a1a1a" stroke-width="0.8"/>
<text transform="translate(199.20 216.60) scale(1.2 1)" font-size="5" text-anchor="middle" fill="#303030" stroke="#303030">****</text>
<path d="M210.60,221 L210.60,197.5 L216.00,197.5 L216.00,203" fill="none" stroke="#1a1a1a" stroke-width="0.8"/>
<text transform="translate(213.30 196.90) scale(1.2 1)" font-size="5" text-anchor="middle" fill="#303030" stroke="#303030">****</text>
<path d="M224.70,215 L224.70,177.9 L230.10,177.9 L230.10,184" fill="none" stroke="#1a1a1a" stroke-width="0.8"/>
<text transform="translate(227.40 177.30) scale(1.2 1)" font-size="5" text-anchor="middle" fill="#303030" stroke="#303030">****</text>
<text x="249.3" y="168.8" font-size="10" text-anchor="start" font-weight="bold" style="stroke-width:0.35px" fill="#000" stroke="#000">D</text>
<text x="248.55" y="268.5" font-size="6.4" text-anchor="start" fill="#303030" textLength="14.0" lengthAdjust="spacingAndGlyphs" stroke="#303030">CRP</text>
<text x="263.45" y="268.7" font-size="4.8" text-anchor="start" fill="#303030" textLength="17.3" lengthAdjust="spacingAndGlyphs" stroke="#303030">μg/mL</text>
<text x="266.4" y="217.0" font-size="6.0" text-anchor="middle" fill="#303030" transform="rotate(-90 266.4 217.0)" textLength="38.6" lengthAdjust="spacingAndGlyphs" stroke="#303030">P-selectin MFI</text>
<rect x="294.30" y="255.42" width="3.2" height="0.88" fill="#1d4d8a"/>
<rect x="298.70" y="255.42" width="3.2" height="0.88" fill="#c4123a"/>
<line x1="295.90000000000003" y1="255.41680000000002" x2="295.90000000000003" y2="252.91680000000002" stroke="#222" stroke-width="0.5"/>
<path d="M294.50,256.30 L297.30,256.30 L295.90,254.10 Z" fill="#111"/>
<line x1="300.30000000000007" y1="255.41680000000002" x2="300.30000000000007" y2="252.91680000000002" stroke="#222" stroke-width="0.5"/>
<path d="M298.90,256.30 L301.70,256.30 L300.30,254.10 Z" fill="#111"/>
<rect x="305.58" y="246.73" width="3.2" height="9.57" fill="#1d4d8a"/>
<rect x="309.98" y="227.96" width="3.2" height="28.34" fill="#c4123a"/>
<line x1="307.18" y1="246.732" x2="307.18" y2="244.232" stroke="#222" stroke-width="0.5"/>
<circle cx="306.78" cy="244.53" r="0.95" fill="#111"/>
<circle cx="307.58" cy="245.52" r="0.95" fill="#111"/>
<circle cx="307.18" cy="246.40" r="0.95" fill="#111"/>
<circle cx="307.18" cy="248.51" r="0.95" fill="#111"/>
<line x1="311.58000000000004" y1="227.964" x2="311.58000000000004" y2="225.11375999999998" stroke="#222" stroke-width="0.5"/>
<circle cx="311.18" cy="225.41" r="0.95" fill="#111"/>
<circle cx="311.98" cy="226.56" r="0.95" fill="#111"/>
<circle cx="311.58" cy="227.58" r="0.95" fill="#111"/>
<circle cx="311.58" cy="230.86" r="0.95" fill="#111"/>
<rect x="316.86" y="245.11" width="3.2" height="11.19" fill="#1d4d8a"/>
<rect x="321.26" y="224.06" width="3.2" height="32.24" fill="#c4123a"/>
<line x1="318.46000000000004" y1="245.1128" x2="318.46000000000004" y2="242.6128" stroke="#222" stroke-width="0.5"/>
<circle cx="318.06" cy="242.91" r="0.95" fill="#111"/>
<circle cx="318.86" cy="243.90" r="0.95" fill="#111"/>
<circle cx="318.46" cy="244.78" r="0.95" fill="#111"/>
<circle cx="318.46" cy="246.98" r="0.95" fill="#111"/>
<line x1="322.86000000000007" y1="224.0632" x2="322.86000000000007" y2="220.861888" stroke="#222" stroke-width="0.5"/>
<circle cx="322.46" cy="221.16" r="0.95" fill="#111"/>
<circle cx="323.26" cy="222.47" r="0.95" fill="#111"/>
<circle cx="322.86" cy="223.63" r="0.95" fill="#111"/>
<circle cx="322.86" cy="227.20" r="0.95" fill="#111"/>
<rect x="328.14" y="241.95" width="3.2" height="14.35" fill="#1d4d8a"/>
<rect x="332.54" y="200.36" width="3.2" height="55.94" fill="#c4123a"/>
<line x1="329.74" y1="241.948" x2="329.74" y2="239.448" stroke="#222" stroke-width="0.5"/>
<circle cx="329.34" cy="239.75" r="0.95" fill="#111"/>
<circle cx="330.14" cy="240.74" r="0.95" fill="#111"/>
<circle cx="329.74" cy="241.62" r="0.95" fill="#111"/>
<circle cx="329.74" cy="244.01" r="0.95" fill="#111"/>
<line x1="334.14000000000004" y1="200.36399999999998" x2="334.14000000000004" y2="195.02975999999995" stroke="#222" stroke-width="0.5"/>
<circle cx="333.74" cy="195.33" r="0.95" fill="#111"/>
<circle cx="334.54" cy="197.60" r="0.95" fill="#111"/>
<circle cx="334.14" cy="199.61" r="0.95" fill="#111"/>
<circle cx="334.14" cy="204.92" r="0.95" fill="#111"/>
<rect x="339.42" y="231.64" width="3.2" height="24.66" fill="#1d4d8a"/>
<rect x="343.82" y="192.56" width="3.2" height="63.74" fill="#c4123a"/>
<line x1="341.02000000000004" y1="231.644" x2="341.02000000000004" y2="229.12496" stroke="#222" stroke-width="0.5"/>
<circle cx="340.62" cy="229.42" r="0.95" fill="#111"/>
<circle cx="341.42" cy="230.42" r="0.95" fill="#111"/>
<circle cx="341.02" cy="231.31" r="0.95" fill="#111"/>
<circle cx="341.02" cy="234.32" r="0.95" fill="#111"/>
<line x1="345.4200000000001" y1="192.5624" x2="345.4200000000001" y2="186.52601599999997" stroke="#222" stroke-width="0.5"/>
<circle cx="345.02" cy="186.83" r="0.95" fill="#111"/>
<circle cx="345.82" cy="189.41" r="0.95" fill="#111"/>
<circle cx="345.42" cy="191.70" r="0.95" fill="#111"/>
<circle cx="345.42" cy="197.59" r="0.95" fill="#111"/>
<rect x="350.70" y="227.60" width="3.2" height="28.70" fill="#1d4d8a"/>
<rect x="355.10" y="186.90" width="3.2" height="69.40" fill="#c4123a"/>
<line x1="352.3" y1="227.596" x2="352.3" y2="224.71264" stroke="#222" stroke-width="0.5"/>
<circle cx="351.90" cy="225.01" r="0.95" fill="#111"/>
<circle cx="352.70" cy="226.18" r="0.95" fill="#111"/>
<circle cx="352.30" cy="227.21" r="0.95" fill="#111"/>
<circle cx="352.30" cy="230.52" r="0.95" fill="#111"/>
<line x1="356.70000000000005" y1="186.8952" x2="356.70000000000005" y2="180.34876799999998" stroke="#222" stroke-width="0.5"/>
<circle cx="356.30" cy="180.65" r="0.95" fill="#111"/>
<circle cx="357.10" cy="183.46" r="0.95" fill="#111"/>
<circle cx="356.70" cy="185.96" r="0.95" fill="#111"/>
<circle cx="356.70" cy="192.26" r="0.95" fill="#111"/>
<line x1="293.4" y1="179" x2="293.4" y2="256.7" stroke="#222" stroke-width="1.3"/>
<line x1="293.0" y1="256.3" x2="361.2" y2="256.3" stroke="#222" stroke-width="1.0"/>
<line x1="290.2" y1="256.3" x2="293.4" y2="256.3" stroke="#222" stroke-width="0.8"/>
<text transform="translate(286.9 258.10) scale(1.19 1)" font-size="4.9" text-anchor="end" fill="#303030" stroke="#303030">0</text>
<line x1="290.2" y1="237.9" x2="293.4" y2="237.9" stroke="#222" stroke-width="0.8"/>
<text transform="translate(286.9 239.70) scale(1.19 1)" font-size="4.9" text-anchor="end" fill="#303030" stroke="#303030">250</text>
<line x1="290.2" y1="219.5" x2="293.4" y2="219.5" stroke="#222" stroke-width="0.8"/>
<text transform="translate(286.9 221.30) scale(1.19 1)" font-size="4.9" text-anchor="end" fill="#303030" stroke="#303030">500</text>
<line x1="290.2" y1="201.1" x2="293.4" y2="201.1" stroke="#222" stroke-width="0.8"/>
<text transform="translate(286.9 202.90) scale(1.19 1)" font-size="4.9" text-anchor="end" fill="#303030" stroke="#303030">750</text>
<line x1="290.2" y1="182.7" x2="293.4" y2="182.7" stroke="#222" stroke-width="0.8"/>
<text transform="translate(286.9 184.50) scale(1.19 1)" font-size="4.9" text-anchor="end" fill="#303030" stroke="#303030">1000</text>
<line x1="291.9" y1="247.10000000000002" x2="293.4" y2="247.10000000000002" stroke="#222" stroke-width="0.6"/>
<line x1="291.9" y1="228.7" x2="293.4" y2="228.7" stroke="#222" stroke-width="0.6"/>
<line x1="291.9" y1="210.3" x2="293.4" y2="210.3" stroke="#222" stroke-width="0.6"/>
<line x1="291.9" y1="191.89999999999998" x2="293.4" y2="191.89999999999998" stroke="#222" stroke-width="0.6"/>
<line x1="298.1" y1="256.3" x2="298.1" y2="258.5" stroke="#222" stroke-width="0.7"/>
<line x1="309.38" y1="256.3" x2="309.38" y2="258.5" stroke="#222" stroke-width="0.7"/>
<line x1="320.66" y1="256.3" x2="320.66" y2="258.5" stroke="#222" stroke-width="0.7"/>
<line x1="331.94" y1="256.3" x2="331.94" y2="258.5" stroke="#222" stroke-width="0.7"/>
<line x1="343.22" y1="256.3" x2="343.22" y2="258.5" stroke="#222" stroke-width="0.7"/>
<line x1="354.5" y1="256.3" x2="354.5" y2="258.5" stroke="#222" stroke-width="0.7"/>
<text transform="translate(300.70 266.2) rotate(-45) scale(1.1 1)" font-size="5.5" text-anchor="end" fill="#303030" stroke="#303030">0</text>
<text transform="translate(311.98 266.2) rotate(-45) scale(1.1 1)" font-size="5.5" text-anchor="end" fill="#303030" stroke="#303030">0.125</text>
<text transform="translate(323.26 266.2) rotate(-45) scale(1.1 1)" font-size="5.5" text-anchor="end" fill="#303030" stroke="#303030">0.25</text>
<text transform="translate(334.54 266.2) rotate(-45) scale(1.1 1)" font-size="5.5" text-anchor="end" fill="#303030" stroke="#303030">0.5</text>
<text transform="translate(345.82 266.2) rotate(-45) scale(1.1 1)" font-size="5.5" text-anchor="end" fill="#303030" stroke="#303030">1</text>
<text transform="translate(357.10 266.2) rotate(-45) scale(1.1 1)" font-size="5.5" text-anchor="end" fill="#303030" stroke="#303030">2</text>
<path d="M307.18,242.8 L307.18,212.1 L311.58,212.1 L311.58,215.4" fill="none" stroke="#1a1a1a" stroke-width="0.8"/>
<text transform="translate(309.38 211.50) scale(1.2 1)" font-size="5" text-anchor="middle" fill="#303030" stroke="#303030">**</text>
<path d="M318.46,243 L318.46,208.3 L322.86,208.3 L322.86,211.8" fill="none" stroke="#1a1a1a" stroke-width="0.8"/>
<text transform="translate(320.66 207.70) scale(1.2 1)" font-size="5" text-anchor="middle" fill="#303030" stroke="#303030">****</text>
<path d="M329.74,239 L329.74,192 L334.14,192 L334.14,195.6" fill="none" stroke="#1a1a1a" stroke-width="0.8"/>
<text transform="translate(331.94 191.40) scale(1.2 1)" font-size="5" text-anchor="middle" fill="#303030" stroke="#303030">**</text>
<path d="M341.02,228 L341.02,183.6 L345.42,183.6 L345.42,187" fill="none" stroke="#1a1a1a" stroke-width="0.8"/>
<text transform="translate(343.22 183.00) scale(1.2 1)" font-size="5" text-anchor="middle" fill="#303030" stroke="#303030">***</text>
<path d="M352.30,224 L352.30,180.4 L356.70,180.4 L356.70,183.8" fill="none" stroke="#1a1a1a" stroke-width="0.8"/>
<text transform="translate(354.50 179.80) scale(1.2 1)" font-size="5" text-anchor="middle" fill="#303030" stroke="#303030">****</text>
<text x="376.5" y="218.5" font-size="6.2" text-anchor="middle" font-weight="bold" fill="#303030" transform="rotate(-90 376.5 218.5)" textLength="28.8" lengthAdjust="spacingAndGlyphs" stroke="#303030">JONA MFI</text>
<rect x="403.65" y="251.63" width="3.1" height="4.47" fill="#1d4d8a"/>
<rect x="408.05" y="252.24" width="3.1" height="3.86" fill="#c4123a"/>
<line x1="405.2" y1="251.62980000000002" x2="405.2" y2="249.12980000000002" stroke="#222" stroke-width="0.5"/>
<path d="M403.80,256.10 L406.60,256.10 L405.20,253.90 Z" fill="#111"/>
<line x1="409.59999999999997" y1="252.24265000000003" x2="409.59999999999997" y2="249.74265000000003" stroke="#222" stroke-width="0.5"/>
<path d="M408.20,256.10 L411.00,256.10 L409.60,253.90 Z" fill="#111"/>
<rect x="415.23" y="248.46" width="3.1" height="7.64" fill="#1d4d8a"/>
<rect x="419.63" y="227.19" width="3.1" height="28.91" fill="#c4123a"/>
<line x1="416.78" y1="248.4574" x2="416.78" y2="245.9574" stroke="#222" stroke-width="0.5"/>
<path d="M415.38,256.10 L418.18,256.10 L416.78,253.90 Z" fill="#111"/>
<line x1="421.17999999999995" y1="227.1879" x2="421.17999999999995" y2="224.285811" stroke="#222" stroke-width="0.5"/>
<circle cx="420.78" cy="224.59" r="0.95" fill="#111"/>
<circle cx="421.58" cy="225.76" r="0.95" fill="#111"/>
<circle cx="421.18" cy="226.80" r="0.95" fill="#111"/>
<circle cx="421.18" cy="230.12" r="0.95" fill="#111"/>
<rect x="426.81" y="246.98" width="3.1" height="9.12" fill="#1d4d8a"/>
<rect x="431.21" y="218.64" width="3.1" height="37.46" fill="#c4123a"/>
<line x1="428.36" y1="246.97935" x2="428.36" y2="244.47935" stroke="#222" stroke-width="0.5"/>
<circle cx="427.96" cy="244.78" r="0.95" fill="#111"/>
<circle cx="428.76" cy="245.77" r="0.95" fill="#111"/>
<circle cx="428.36" cy="246.65" r="0.95" fill="#111"/>
<circle cx="428.36" cy="248.73" r="0.95" fill="#111"/>
<line x1="432.76" y1="218.64405" x2="432.76" y2="214.97301449999998" stroke="#222" stroke-width="0.5"/>
<circle cx="432.36" cy="215.27" r="0.95" fill="#111"/>
<circle cx="433.16" cy="216.79" r="0.95" fill="#111"/>
<circle cx="432.76" cy="218.14" r="0.95" fill="#111"/>
<circle cx="432.76" cy="222.09" r="0.95" fill="#111"/>
<rect x="438.39" y="242.18" width="3.1" height="13.92" fill="#1d4d8a"/>
<rect x="442.79" y="207.65" width="3.1" height="48.45" fill="#c4123a"/>
<line x1="439.94" y1="242.18470000000002" x2="439.94" y2="239.68470000000002" stroke="#222" stroke-width="0.5"/>
<circle cx="439.54" cy="239.98" r="0.95" fill="#111"/>
<circle cx="440.34" cy="240.97" r="0.95" fill="#111"/>
<circle cx="439.94" cy="241.85" r="0.95" fill="#111"/>
<circle cx="439.94" cy="244.22" r="0.95" fill="#111"/>
<line x1="444.34" y1="207.6488" x2="444.34" y2="202.98819199999997" stroke="#222" stroke-width="0.5"/>
<circle cx="443.94" cy="203.29" r="0.95" fill="#111"/>
<circle cx="444.74" cy="205.25" r="0.95" fill="#111"/>
<circle cx="444.34" cy="206.99" r="0.95" fill="#111"/>
<circle cx="444.34" cy="211.76" r="0.95" fill="#111"/>
<rect x="449.97" y="242.18" width="3.1" height="13.92" fill="#1d4d8a"/>
<rect x="454.37" y="200.40" width="3.1" height="55.70" fill="#c4123a"/>
<line x1="451.52" y1="242.18470000000002" x2="451.52" y2="239.68470000000002" stroke="#222" stroke-width="0.5"/>
<circle cx="451.12" cy="239.98" r="0.95" fill="#111"/>
<circle cx="451.92" cy="240.97" r="0.95" fill="#111"/>
<circle cx="451.52" cy="241.85" r="0.95" fill="#111"/>
<circle cx="451.52" cy="244.22" r="0.95" fill="#111"/>
<line x1="455.91999999999996" y1="200.40275" x2="455.91999999999996" y2="195.08999749999998" stroke="#222" stroke-width="0.5"/>
<circle cx="455.52" cy="195.39" r="0.95" fill="#111"/>
<circle cx="456.32" cy="197.65" r="0.95" fill="#111"/>
<circle cx="455.92" cy="199.65" r="0.95" fill="#111"/>
<circle cx="455.92" cy="204.94" r="0.95" fill="#111"/>
<rect x="461.55" y="237.14" width="3.1" height="18.96" fill="#1d4d8a"/>
<rect x="465.95" y="191.93" width="3.1" height="64.17" fill="#c4123a"/>
<line x1="463.09999999999997" y1="237.13770000000002" x2="463.09999999999997" y2="234.63770000000002" stroke="#222" stroke-width="0.5"/>
<circle cx="462.70" cy="234.94" r="0.95" fill="#111"/>
<circle cx="463.50" cy="235.93" r="0.95" fill="#111"/>
<circle cx="463.10" cy="236.81" r="0.95" fill="#111"/>
<circle cx="463.10" cy="239.48" r="0.95" fill="#111"/>
<line x1="467.49999999999994" y1="191.93099999999998" x2="467.49999999999994" y2="185.85578999999996" stroke="#222" stroke-width="0.5"/>
<circle cx="467.10" cy="186.16" r="0.95" fill="#111"/>
<circle cx="467.90" cy="188.75" r="0.95" fill="#111"/>
<circle cx="467.50" cy="191.06" r="0.95" fill="#111"/>
<circle cx="467.50" cy="196.98" r="0.95" fill="#111"/>
<line x1="402.6" y1="180.5" x2="402.6" y2="256.5" stroke="#4a4a4a" stroke-width="1.7"/>
<line x1="402.20000000000005" y1="256.1" x2="471.5" y2="256.1" stroke="#222" stroke-width="1.0"/>
<line x1="400.20000000000005" y1="256.1" x2="402.6" y2="256.1" stroke="#222" stroke-width="0.8"/>
<text transform="translate(396.4 257.90) scale(1.19 1)" font-size="5.1" text-anchor="end" fill="#303030" stroke="#303030">0</text>
<line x1="400.20000000000005" y1="238.07500000000002" x2="402.6" y2="238.07500000000002" stroke="#222" stroke-width="0.8"/>
<text transform="translate(396.4 239.88) scale(1.19 1)" font-size="5.1" text-anchor="end" fill="#303030" stroke="#303030">500</text>
<line x1="400.20000000000005" y1="220.05" x2="402.6" y2="220.05" stroke="#222" stroke-width="0.8"/>
<text transform="translate(396.4 221.85) scale(1.19 1)" font-size="5.1" text-anchor="end" fill="#303030" stroke="#303030">1000</text>
<line x1="400.20000000000005" y1="202.025" x2="402.6" y2="202.025" stroke="#222" stroke-width="0.8"/>
<text transform="translate(396.4 203.83) scale(1.19 1)" font-size="5.1" text-anchor="end" fill="#303030" stroke="#303030">1500</text>
<line x1="400.20000000000005" y1="184.0" x2="402.6" y2="184.0" stroke="#222" stroke-width="0.8"/>
<text transform="translate(396.4 185.80) scale(1.19 1)" font-size="5.1" text-anchor="end" fill="#303030" stroke="#303030">2000</text>
<line x1="407.4" y1="256.1" x2="407.4" y2="258.3" stroke="#222" stroke-width="0.7"/>
<line x1="418.97999999999996" y1="256.1" x2="418.97999999999996" y2="258.3" stroke="#222" stroke-width="0.7"/>
<line x1="430.56" y1="256.1" x2="430.56" y2="258.3" stroke="#222" stroke-width="0.7"/>
<line x1="442.14" y1="256.1" x2="442.14" y2="258.3" stroke="#222" stroke-width="0.7"/>
<line x1="453.71999999999997" y1="256.1" x2="453.71999999999997" y2="258.3" stroke="#222" stroke-width="0.7"/>
<line x1="465.29999999999995" y1="256.1" x2="465.29999999999995" y2="258.3" stroke="#222" stroke-width="0.7"/>
<text transform="translate(410.00 266.2) rotate(-45) scale(1.1 1)" font-size="5.5" text-anchor="end" fill="#303030" stroke="#303030">0</text>
<text transform="translate(421.58 266.2) rotate(-45) scale(1.1 1)" font-size="5.5" text-anchor="end" fill="#303030" stroke="#303030">0.125</text>
<text transform="translate(433.16 266.2) rotate(-45) scale(1.1 1)" font-size="5.5" text-anchor="end" fill="#303030" stroke="#303030">0.25</text>
<text transform="translate(444.74 266.2) rotate(-45) scale(1.1 1)" font-size="5.5" text-anchor="end" fill="#303030" stroke="#303030">0.5</text>
<text transform="translate(456.32 266.2) rotate(-45) scale(1.1 1)" font-size="5.5" text-anchor="end" fill="#303030" stroke="#303030">1</text>
<text transform="translate(467.90 266.2) rotate(-45) scale(1.1 1)" font-size="5.5" text-anchor="end" fill="#303030" stroke="#303030">2</text>
<path d="M416.78,245 L416.78,210.8 L421.18,210.8 L421.18,214.6" fill="none" stroke="#1a1a1a" stroke-width="0.8"/>
<text transform="translate(418.98 210.20) scale(1.2 1)" font-size="5" text-anchor="middle" fill="#303030" stroke="#303030">**</text>
<path d="M428.36,244 L428.36,202 L432.76,202 L432.76,205.6" fill="none" stroke="#1a1a1a" stroke-width="0.8"/>
<text transform="translate(430.56 201.40) scale(1.2 1)" font-size="5" text-anchor="middle" fill="#303030" stroke="#303030">****</text>
<path d="M439.94,239 L439.94,190.2 L444.34,190.2 L444.34,194" fill="none" stroke="#1a1a1a" stroke-width="0.8"/>
<text transform="translate(442.14 189.60) scale(1.2 1)" font-size="5" text-anchor="middle" fill="#303030" stroke="#303030">**</text>
<path d="M451.52,239 L451.52,184.2 L455.92,184.2 L455.92,188" fill="none" stroke="#1a1a1a" stroke-width="0.8"/>
<text transform="translate(453.72 183.60) scale(1.2 1)" font-size="5" text-anchor="middle" fill="#303030" stroke="#303030">***</text>
<path d="M463.10,234 L463.10,180.1 L467.50,180.1 L467.50,184" fill="none" stroke="#1a1a1a" stroke-width="0.8"/>
<text transform="translate(465.30 179.50) scale(1.2 1)" font-size="5" text-anchor="middle" fill="#303030" stroke="#303030">**</text>
<rect x="475" y="187.3" width="4" height="3.8" fill="#1d4d8a"/>
<rect x="475" y="196.9" width="4" height="3.9" fill="#c4123a"/>
<text x="481.85" y="191.6" font-size="5.8" text-anchor="start" fill="#303030" textLength="9.6" lengthAdjust="spacingAndGlyphs" stroke="#303030">WT</text>
<text x="481.85" y="201.4" font-size="5.8" text-anchor="start" fill="#303030" textLength="29.7" lengthAdjust="spacingAndGlyphs" stroke="#303030">Syk Y317F</text>
</svg>
<svg width="520" height="285" viewBox="0 0 520 285" style="position:absolute;left:0;top:0;filter:none;">
<rect x="0" y="0" width="1.3" height="285" fill="#5a5a5a"/>
<rect x="0" y="0" width="520" height="1.2" fill="#5a5a5a"/>
<rect x="518.5" y="0" width="1.5" height="285" fill="#5a5a5a"/>
<rect x="0" y="283.5" width="520" height="1.5" fill="#5a5a5a"/>
</svg>
</div></body></html>
